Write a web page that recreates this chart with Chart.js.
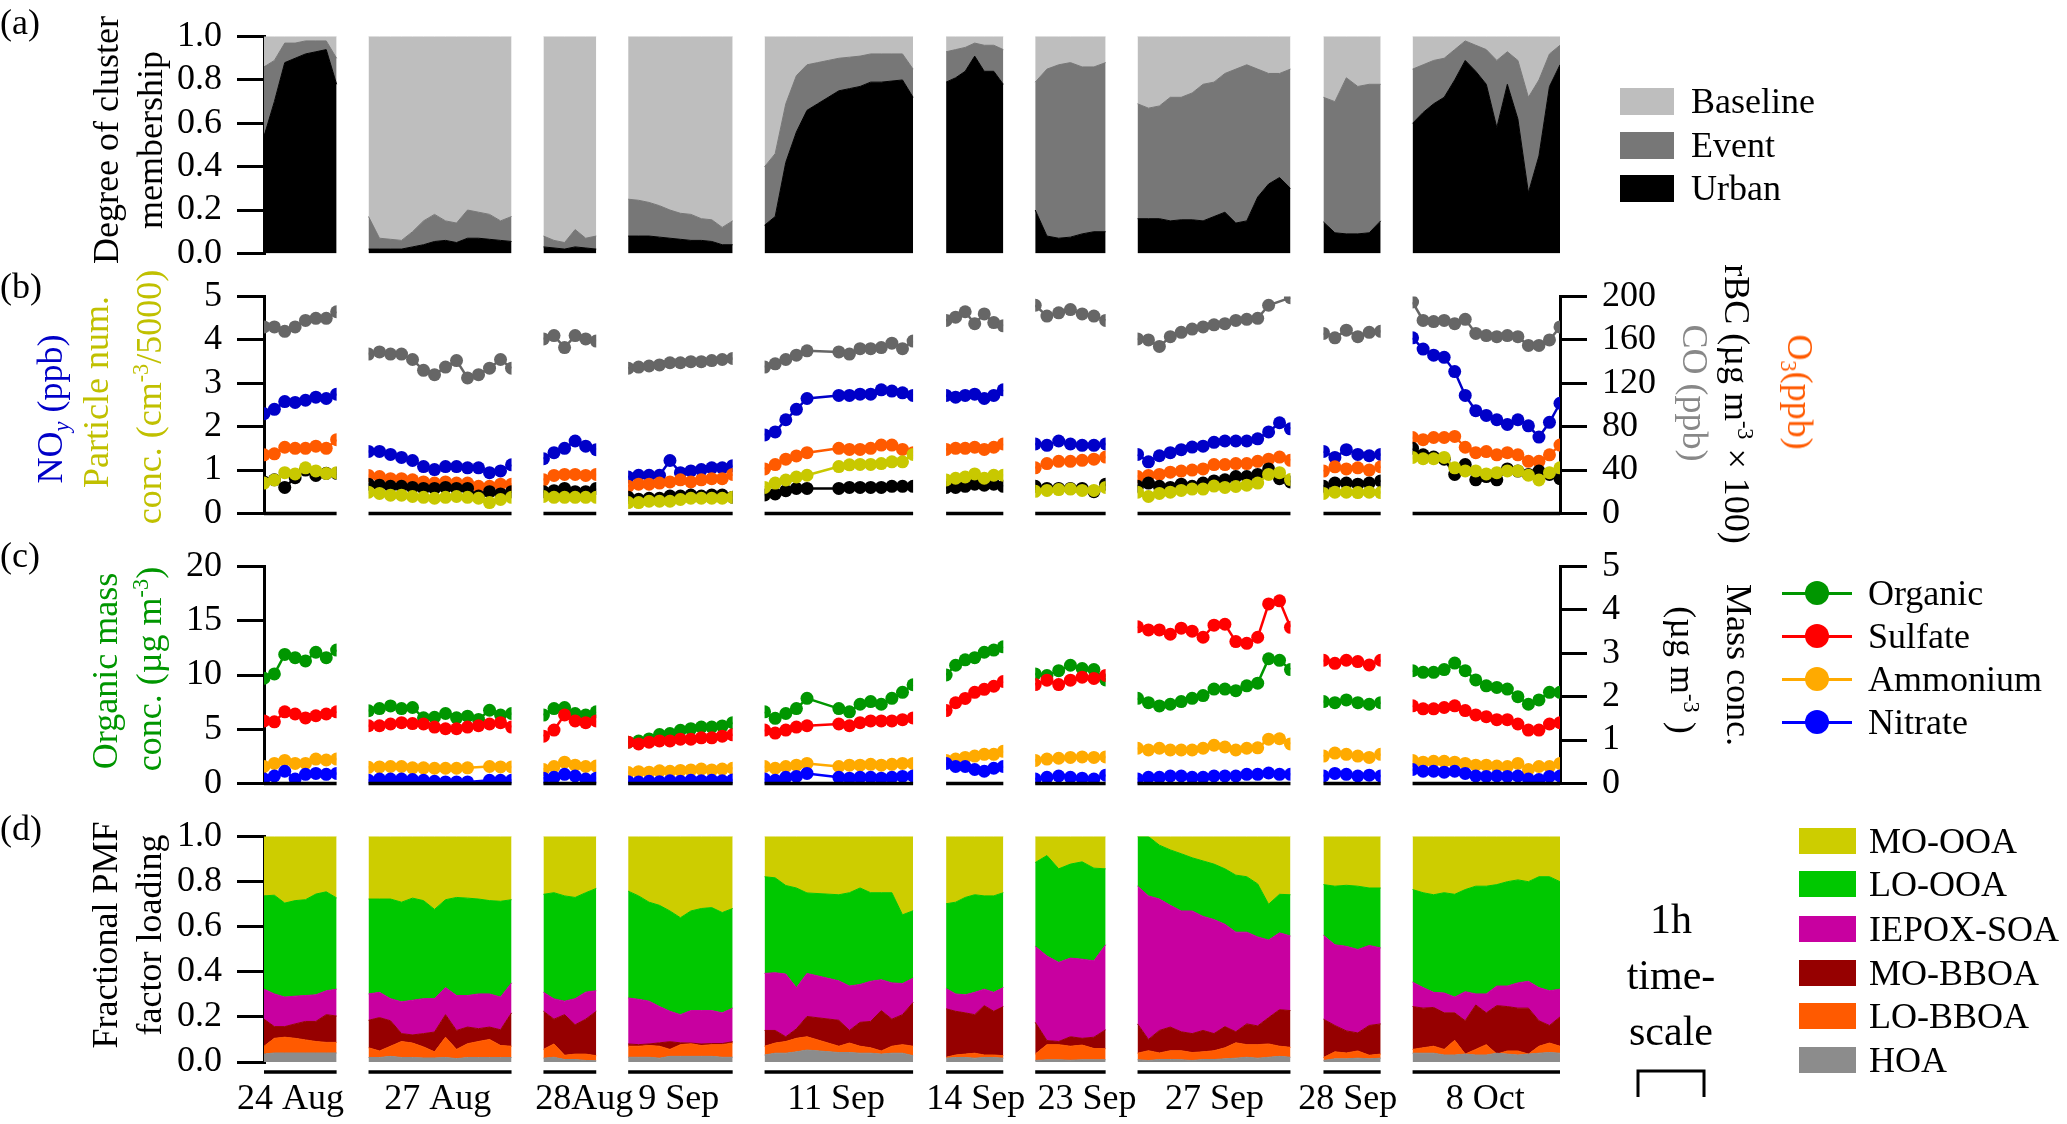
<!DOCTYPE html>
<html><head><meta charset="utf-8">
<script src="https://cdn.jsdelivr.net/npm/chart.js"></script>
<style>
html,body{margin:0;padding:0;background:#fff;}
#wrap{position:relative;width:2067px;height:1124px;overflow:hidden;font-family:'Liberation Serif',serif;}
canvas{position:absolute;left:0;}
.t{position:absolute;white-space:nowrap;font-size:36px;line-height:1;color:#000;}
.t sup{font-size:0.62em;position:relative;top:-0.6em;vertical-align:baseline;line-height:0;}
.t sub{font-size:0.62em;position:relative;top:0.3em;vertical-align:baseline;line-height:0;}
.sw{position:absolute;}
</style></head><body><div id="wrap">
<canvas id="ca" width="2067" height="290" style="top:0px"></canvas>
<canvas id="cb" width="2067" height="290" style="top:260px"></canvas>
<canvas id="cc" width="2067" height="290" style="top:530px"></canvas>
<canvas id="cd" width="2067" height="324" style="top:800px"></canvas>
</div>
<script>
// ---------- time axis (minutes on a continuous, gap-compressed axis) ----------
const segStart = [0, 95, 254, 331, 455, 620, 701, 794, 963, 1044];
const segEnd   = [66, 225, 302, 426, 590, 672, 765, 933, 1015, 1178];
const xMax = 1178;
const dateLabels = ['24 Aug','27 Aug','28Aug','9 Sep','11 Sep','14 Sep','23 Sep','27 Sep','28 Sep','8 Oct'];
const labelTimes = [24, 158, 291, 377, 520, 647, 748, 864, 985, 1110];

// ---------- panel (a): degree of cluster membership (cumulative) ----------
const urban = [
 [0.54,0.70,0.88,0.90,0.92,0.93,0.94,0.78],
 [0.02,0.02,0.02,0.02,0.03,0.04,0.055,0.06,0.05,0.07,0.07,0.065,0.06,0.055],
 [0.03,0.025,0.02,0.03,0.025,0.02],
 [0.08,0.08,0.08,0.075,0.07,0.065,0.06,0.06,0.055,0.04,0.04],
 [0.13,0.17,0.42,0.56,0.66,0.69,0.72,0.75,0.76,0.77,0.79,0.79,0.795,0.80,0.72],
 [0.79,0.81,0.84,0.91,0.84,0.84,0.78],
 [0.20,0.08,0.07,0.075,0.09,0.10,0.10],
 [0.16,0.16,0.16,0.15,0.155,0.155,0.15,0.17,0.19,0.14,0.15,0.26,0.32,0.35,0.30],
 [0.145,0.095,0.09,0.09,0.095,0.15],
 [0.60,0.65,0.69,0.72,0.80,0.89,0.84,0.78,0.58,0.78,0.62,0.28,0.45,0.77,0.87]
];
const urbanPlusEvent = [
 [0.86,0.89,0.97,0.97,0.98,0.98,0.98,0.90],
 [0.17,0.07,0.065,0.06,0.10,0.15,0.18,0.15,0.14,0.20,0.19,0.18,0.15,0.17],
 [0.08,0.06,0.05,0.11,0.07,0.08],
 [0.25,0.245,0.235,0.22,0.20,0.185,0.18,0.16,0.155,0.12,0.15],
 [0.40,0.46,0.69,0.82,0.87,0.88,0.89,0.90,0.905,0.91,0.92,0.92,0.92,0.92,0.85],
 [0.93,0.94,0.95,0.97,0.96,0.96,0.94],
 [0.79,0.85,0.87,0.88,0.86,0.86,0.88],
 [0.69,0.67,0.68,0.72,0.72,0.74,0.78,0.79,0.83,0.85,0.87,0.85,0.83,0.83,0.85],
 [0.72,0.70,0.81,0.77,0.78,0.78],
 [0.85,0.87,0.89,0.90,0.94,0.98,0.96,0.94,0.89,0.93,0.89,0.72,0.80,0.92,0.96]
];
const totalFraction = 1;

// ---------- panel (b) ----------
const noy = [
 [2.30,2.40,2.58,2.56,2.61,2.68,2.65,2.75],
 [1.43,1.43,1.36,1.29,1.22,1.08,1.01,1.08,1.08,1.05,1.05,0.94,0.98,1.12],
 [1.26,1.40,1.50,1.67,1.55,1.47],
 [0.84,0.88,0.88,0.88,1.22,0.94,0.98,1.01,1.05,1.05,1.10],
 [1.81,1.88,2.16,2.40,2.65,null,null,2.72,2.72,2.75,2.75,2.85,2.82,2.78,2.72],
 [2.72,2.68,2.72,2.75,2.65,2.72,2.85],
 [1.60,1.57,1.67,1.60,1.57,1.57,1.60],
 [1.36,1.19,1.33,1.40,1.47,1.53,1.55,1.64,1.67,1.67,1.67,1.72,1.88,2.09,1.95],
 [1.43,1.29,1.47,1.36,1.33,1.36],
 [4.05,3.79,3.65,3.60,3.27,2.72,2.37,2.26,2.16,2.05,2.16,2.02,1.76,2.10,2.54]
];
const particleNum = [
 [0.70,0.77,0.94,0.91,1.05,0.98,0.92,0.94],
 [0.49,0.46,0.42,0.42,0.39,0.37,0.35,0.37,0.39,0.37,0.35,0.25,0.32,0.37],
 [0.39,0.37,0.37,0.37,0.37,0.37],
 [0.25,0.25,0.28,0.28,0.28,0.32,0.35,0.35,0.35,0.35,0.37],
 [0.60,0.70,0.77,0.84,0.88,null,null,1.08,1.12,1.13,1.13,1.15,1.19,1.19,1.36],
 [0.77,0.81,0.84,0.91,0.81,0.88,0.88],
 [0.51,0.53,0.55,0.56,0.53,0.53,0.60],
 [0.49,0.39,0.46,0.49,0.53,0.56,0.56,0.63,0.60,0.62,0.65,0.70,0.90,0.94,0.78],
 [0.46,0.49,0.49,0.48,0.49,0.48],
 [1.29,1.26,1.26,1.29,1.05,0.98,0.98,0.91,0.94,0.98,0.98,0.88,0.77,0.94,1.05]
];
const co = [
 [172,172,168,172,178,180,180,186],
 [147,149,147,147,142,132,128,135,141,125,128,134,142,134],
 [161,164,153,164,161,159],
 [134,135,136,137,139,139,140,140,141,142,143],
 [135,138,142,146,150,null,null,149,147,152,152,153,157,152,159],
 [178,181,186,175,184,176,173],
 [192,182,185,188,184,182,178],
 [161,160,154,163,167,170,172,174,175,178,179,180,192,null,199],
 [166,162,169,163,167,168],
 [195,178,177,178,175,179,166,164,163,164,163,155,155,160,172]
];
const o3 = [
 [54,55,61,60,60,62,60,68],
 [35,34,32,32,31,29,28,29,28,28,25,25,27,27],
 [31,35,36,36,35,36],
 [25,27,27,28,29,31,29,31,32,32,36],
 [41,45,50,53,56,null,null,60,59,59,60,63,63,59,56],
 [59,60,60,61,59,61,64],
 [42,46,48,48,49,50,52],
 [34,35,36,38,39,40,41,45,45,46,46,48,50,52,49],
 [39,43,41,42,40,43],
 [70,68,70,70,71,61,56,57,54,56,54,48,48,54,63]
];
const rbc = [
 [29,31,24,33,40,35,37,37],
 [27,26,25,25,24,23,23,24,23,23,16,20,18,20],
 [20,21,23,20,20,23],
 [15,13,14,14,16,16,17,16,17,17,15],
 [17,18,21,23,23,null,null,23,24,24,24,24,25,25,25],
 [24,24,25,27,26,27,25],
 [25,23,23,23,23,20,27],
 [25,28,25,24,27,25,28,30,31,34,34,36,41,32,29],
 [25,28,28,27,28,30],
 [60,54,52,50,36,45,31,34,31,41,39,36,39,36,32]
];

// ---------- panel (c) ----------
const organic = [
 [9.7,10.1,11.9,11.6,11.3,12.1,11.6,12.3],
 [6.7,6.9,7.15,6.9,7.0,6.05,6.1,6.45,6.05,6.2,5.9,6.75,6.3,6.45],
 [6.3,6.9,7.0,6.45,6.3,6.6],
 [3.8,3.9,4.1,4.5,4.6,4.9,5.05,5.2,5.2,5.3,5.6],
 [6.6,6.0,6.45,6.9,7.85,null,null,6.9,6.6,7.3,7.55,7.3,7.85,8.4,9.1],
 [10.0,10.9,11.4,11.6,12.1,12.3,12.6],
 [10.1,9.95,10.4,10.9,10.6,10.5,9.55],
 [7.85,7.45,7.15,7.3,7.55,7.85,8.1,8.7,8.7,8.55,9.0,9.25,11.5,11.35,10.5],
 [7.55,7.45,7.7,7.45,7.3,7.45],
 [10.4,10.25,10.25,10.5,11.1,10.4,9.55,9.0,8.85,8.7,8.0,7.3,7.7,8.4,8.4]
];
const sulfate = [
 [1.44,1.42,1.65,1.60,1.51,1.56,1.60,1.65],
 [1.33,1.33,1.37,1.40,1.38,1.37,1.30,1.26,1.26,1.30,1.33,1.37,1.40,1.30],
 [1.09,1.23,1.58,1.44,1.40,1.44],
 [0.95,0.91,0.95,0.98,0.98,1.02,1.02,1.05,1.05,1.09,1.12],
 [1.23,1.16,1.23,1.30,1.33,null,null,1.37,1.33,1.40,1.44,1.44,1.44,1.47,1.51],
 [1.68,1.86,1.96,2.10,2.17,2.24,2.35],
 [2.28,2.38,2.28,2.38,2.45,2.42,2.49],
 [3.61,3.54,3.54,3.44,3.58,3.51,3.37,3.65,3.67,3.27,3.23,3.37,4.14,4.21,3.6],
 [2.84,2.77,2.84,2.81,2.73,2.84],
 [1.79,1.72,1.72,1.75,1.79,1.68,1.58,1.54,1.47,1.47,1.37,1.23,1.23,1.37,1.40]
];
const ammonium = [
 [0.39,0.46,0.53,0.46,0.46,0.56,0.54,0.56],
 [0.37,0.38,0.39,0.39,0.36,0.36,0.35,0.35,0.35,0.36,null,0.39,0.38,0.38],
 [0.32,0.39,0.49,0.42,0.39,0.40],
 [0.25,0.27,0.26,0.29,0.28,0.30,0.31,0.33,0.31,0.33,0.35],
 [0.39,0.35,0.39,0.42,0.46,null,null,0.39,0.42,0.42,0.44,0.42,0.44,0.46,0.46],
 [0.53,0.56,0.60,0.63,0.67,0.67,0.74],
 [0.53,0.56,0.58,0.60,0.61,0.60,0.61],
 [0.81,0.77,0.81,0.77,0.77,0.77,0.81,0.88,0.84,0.77,0.81,0.82,1.02,1.03,0.91],
 [0.63,0.70,0.67,0.63,0.60,0.67],
 [0.53,0.49,0.51,0.51,0.49,0.46,0.42,0.42,0.40,0.39,0.46,0.32,0.39,0.39,0.46]
];
const nitrate = [
 [0.10,0.17,0.28,0.10,0.21,0.23,0.21,0.23],
 [0.07,0.10,0.10,0.10,0.09,0.07,0.05,0.035,0.035,0.035,null,0.07,0.07,0.07],
 [0.12,0.14,0.21,0.17,0.10,0.12],
 [0.04,0.03,0.05,0.04,0.06,0.05,0.07,0.06,0.07,0.06,0.08],
 [0.10,0.07,0.14,0.16,0.23,null,null,0.14,0.12,0.14,0.14,0.12,0.14,0.16,0.17],
 [0.46,0.39,0.39,0.32,0.28,0.35,0.39],
 [0.10,0.14,0.17,0.14,0.12,0.10,0.19],
 [0.10,0.14,0.14,0.17,0.17,0.14,0.14,0.17,0.17,0.17,0.21,0.21,0.24,0.21,0.21],
 [0.17,0.23,0.21,0.17,0.19,0.17],
 [0.32,0.28,0.28,0.26,0.28,0.23,0.17,0.16,0.17,0.16,0.17,0.10,0.09,0.16,0.17]
];

// ---------- panel (d): cumulative fractional PMF loadings (upper edge of each factor) ----------
const hoaCum = [
 [0.035,0.04,0.04,0.04,0.04,0.04,0.04,0.04],
 [0.02,0.02,0.025,0.02,0.02,0.018,0.018,0.02,0.015,0.02,0.02,0.02,0.02,0.02],
 [0.017,0.021,0.011,0.011,0.007,0.005],
 [0.021,0.021,0.021,0.017,0.025,0.025,0.025,0.025,0.025,0.021,0.021],
 [0.031,0.039,0.039,0.045,0.053,null,null,0.042,0.042,0.039,0.039,0.035,0.039,0.039,0.028],
 [0.017,0.02,0.02,0.017,0.02,0.02,0.017],
 [0.007,0.01,0.01,0.008,0.01,0.01,0.01],
 [0.01,0.007,0.011,0.011,0.01,0.007,0.011,0.011,0.014,0.017,0.021,0.017,0.021,0.025,0.021],
 [0.007,0.014,0.014,0.017,0.014,0.017],
 [0.039,0.039,0.039,0.031,0.031,0.035,0.031,0.031,0.039,0.035,0.031,0.035,0.039,0.042,0.039]
];
const loBboaCum = [
 [0.07,0.105,0.11,0.105,0.098,0.091,0.087,0.087],
 [0.063,0.049,0.07,0.091,0.084,0.067,0.045,0.11,0.056,0.081,0.091,0.10,0.073,0.07],
 [0.056,0.08,0.03,0.035,0.035,0.028],
 [0.07,0.07,0.073,0.07,0.056,0.077,0.081,0.073,0.077,0.077,0.084],
 [0.07,0.084,0.091,0.105,0.112,null,null,0.07,0.084,0.07,0.063,0.049,0.07,0.077,0.07],
 [0.021,0.031,0.035,0.039,0.031,0.031,0.028],
 [0.035,0.077,0.077,0.07,0.075,0.06,0.059],
 [0.039,0.05,0.04,0.05,0.05,0.042,0.045,0.05,0.063,0.085,0.077,0.077,0.08,0.07,0.065],
 [0.02,0.045,0.04,0.049,0.03,0.035],
 [0.056,0.063,0.07,0.056,0.096,0.035,0.056,0.077,0.035,0.049,0.049,0.035,0.07,0.084,0.07]
];
const moBboaCum = [
 [0.19,0.157,0.157,0.169,0.18,0.18,0.21,0.204],
 [0.185,0.197,0.183,0.126,0.12,0.126,0.133,0.21,0.14,0.155,0.148,0.155,0.143,0.218],
 [0.225,0.19,0.21,0.165,0.19,0.225],
 [0.08,0.077,0.08,0.085,0.09,0.085,0.084,0.08,0.082,0.082,0.09],
 [0.14,0.14,0.112,0.147,0.202,null,null,0.185,0.14,0.176,0.18,0.228,0.19,0.21,0.264],
 [0.236,0.225,0.218,0.21,0.25,0.225,0.246],
 [0.176,0.095,0.091,0.112,0.105,0.11,0.143],
 [0.169,0.10,0.14,0.155,0.134,0.126,0.14,0.126,0.157,0.134,0.169,0.16,0.197,0.232,0.228],
 [0.19,0.162,0.138,0.129,0.162,0.169],
 [0.246,0.239,0.242,0.218,0.218,0.183,0.253,0.218,0.25,0.246,0.239,0.239,0.183,0.162,0.2]
];
const iepoxCum = [
 [0.323,0.302,0.288,0.292,0.295,0.298,0.316,0.323],
 [0.302,0.309,0.281,0.267,0.274,0.281,0.281,0.33,0.295,0.295,0.302,0.302,0.288,0.351],
 [0.309,0.28,0.27,0.281,0.31,0.316],
 [0.284,0.278,0.27,0.246,0.225,0.21,0.228,0.228,0.228,0.218,0.239],
 [0.393,0.396,0.39,0.33,0.393,null,null,0.36,0.337,0.344,0.358,0.365,0.351,0.348,0.372],
 [0.326,0.302,0.298,0.309,0.323,0.309,0.33],
 [0.513,0.47,0.442,0.461,0.456,0.449,0.52],
 [0.78,0.737,0.723,0.695,0.67,0.67,0.646,0.632,0.611,0.576,0.576,0.555,0.541,0.573,0.559],
 [0.562,0.52,0.513,0.499,0.517,0.506],
 [0.354,0.33,0.309,0.306,0.288,0.312,0.302,0.302,0.337,0.337,0.351,0.358,0.33,0.316,0.323]
];
const loOoaCum = [
 [0.737,0.74,0.705,0.716,0.72,0.745,0.755,0.728],
 [0.723,0.723,0.723,0.709,0.727,0.716,0.677,0.72,0.73,0.727,0.723,0.716,0.713,0.72],
 [0.744,0.751,0.737,0.73,0.751,0.77],
 [0.758,0.737,0.709,0.695,0.67,0.64,0.67,0.681,0.685,0.663,0.681],
 [0.822,0.817,0.783,0.772,0.75,null,null,0.742,0.751,0.772,0.751,0.751,0.751,0.653,0.671],
 [0.702,0.709,0.73,0.742,0.737,0.737,0.751],
 [0.885,0.916,0.857,0.878,0.888,0.86,0.857],
 [1.0,1.0,0.962,0.941,0.924,0.906,0.892,0.878,0.857,0.829,0.822,0.79,0.70,0.744,0.742],
 [0.787,0.78,0.784,0.78,0.772,0.772],
 [0.765,0.751,0.742,0.751,0.744,0.765,0.78,0.78,0.787,0.80,0.808,0.80,0.822,0.822,0.80]
];

// ---------------------------------------------------------------------------
const FF = "'Liberation Serif', serif";
Chart.defaults.font.family = FF;
Chart.defaults.font.size = 36;

function tAt(s, i, n) { return segStart[s] + i * (segEnd[s] - segStart[s]) / (n - 1); }
function lineData(series) {
  const out = [];
  series.forEach((seg, s) => {
    if (s > 0) out.push({x: (segEnd[s-1] + segStart[s]) / 2, y: null});
    seg.forEach((v, i) => { if (v !== null) out.push({x: tAt(s, i, seg.length), y: v}); });
  });
  return out;
}
function segData(arr, s, constVal) {
  const seg = arr[s];
  const out = [];
  seg.forEach((v, i) => { if (v !== null) out.push({x: tAt(s, i, seg.length), y: constVal !== undefined ? constVal : v}); });
  return out;
}
function yAxis(pos, min, max, step, width, fmt) {
  return {
    type: 'linear', position: pos, min: min, max: max,
    ticks: {stepSize: step, autoSkip: false, color: '#000', font: {family: FF, size: 36}, padding: 15,
            callback: fmt || (v => String(v))},
    grid: {drawOnChartArea: false, drawTicks: true, tickLength: 27, lineWidth: 3, color: '#000'},
    border: {display: true, color: '#000', width: 3},
    afterFit(s) { s.width = width; }
  };
}
const xHidden = {type: 'linear', min: 0, max: xMax, display: false};
function segLines(offset) {
  return {
    id: 'segLines',
    afterDatasetsDraw(chart) {
      const {ctx, chartArea, scales} = chart;
      const x = scales.x;
      const y = chartArea.bottom + offset;
      ctx.save(); ctx.strokeStyle = '#000'; ctx.lineWidth = 3.5;
      segStart.forEach((s0, i) => {
        ctx.beginPath(); ctx.moveTo(x.getPixelForValue(s0), y); ctx.lineTo(x.getPixelForValue(segEnd[i]), y); ctx.stroke();
      });
      ctx.restore();
    }
  };
}
// each measurement period is its own sub-plot: clip marks to the period's extent
const segClip = {
  id: 'segClip',
  beforeDatasetsDraw(chart) {
    const {ctx, chartArea, scales} = chart;
    const x = scales.x;
    ctx.save(); ctx.beginPath();
    segStart.forEach((s0, i) => {
      const a = x.getPixelForValue(s0), b = x.getPixelForValue(segEnd[i]);
      ctx.rect(a, chartArea.top - 15, b - a, chartArea.bottom - chartArea.top + 30);
    });
    ctx.clip();
  },
  afterDatasetsDraw(chart) { chart.ctx.restore(); }
};
const baseOpts = (padding, scales) => ({
  responsive: false, animation: false, events: [],
  layout: {padding: padding},
  plugins: {legend: {display: false}, tooltip: {enabled: false}},
  scales: scales
});
function stackedDatasets(bands, colors) {
  const ds = [];
  for (let s = 0; s < segStart.length; s++) {
    const base = ds.length;
    bands.forEach((b, k) => {
      const data = b === 'total' ? segData(bands[k-1], s, totalFraction) : segData(b, s);
      ds.push({data: data, backgroundColor: colors[k], borderColor: colors[k], borderWidth: 1,
               pointRadius: 0, fill: k === 0 ? 'origin' : base + k - 1, tension: 0});
    });
  }
  return ds;
}
function lineSet(series, color, axis, order) {
  return {data: lineData(series), borderColor: color, backgroundColor: color, pointBackgroundColor: color,
          pointBorderColor: color, pointBorderWidth: 0, pointRadius: 6.5, borderWidth: 2.5,
          spanGaps: false, yAxisID: axis, order: order, fill: false, tension: 0};
}

// ----- panel (a)
const colA = ['#000000', '#777777', '#bebebe'];
new Chart(document.getElementById('ca'), {
  type: 'line',
  data: {datasets: stackedDatasets([urban, urbanPlusEvent, 'total'], colA)},
  options: baseOpts({left: 0, right: 507, top: 29, bottom: 33},
    {x: xHidden, y: yAxis('left', 0, 1, 0.2, 264, v => v.toFixed(1))})
});

// ----- panel (b)
new Chart(document.getElementById('cb'), {
  type: 'line',
  data: {datasets: [
    lineSet(particleNum, '#c8c800', 'y', 1),
    lineSet(rbc, '#000000', 'y2', 2),
    lineSet(o3, '#ff5a00', 'y2', 3),
    lineSet(noy, '#0000c8', 'y', 4),
    lineSet(co, '#666666', 'y2', 5)
  ]},
  options: baseOpts({left: 0, right: 0, top: 27, bottom: 23},
    {x: xHidden, y: yAxis('left', 0, 5, 1, 264), y2: yAxis('right', 0, 200, 40, 507)}),
  plugins: [segClip, segLines(0)]
});

// ----- panel (c)
new Chart(document.getElementById('cc'), {
  type: 'line',
  data: {datasets: [
    lineSet(nitrate, '#0000ff', 'y2', 1),
    lineSet(ammonium, '#ffaa00', 'y2', 2),
    lineSet(sulfate, '#ff0000', 'y2', 3),
    lineSet(organic, '#009600', 'y', 4)
  ]},
  options: baseOpts({left: 0, right: 0, top: 26, bottom: 27},
    {x: xHidden, y: yAxis('left', 0, 20, 5, 264), y2: yAxis('right', 0, 5, 1, 507)}),
  plugins: [segClip, segLines(0)]
});

// ----- panel (d)
const colD = ['#8c8c8c', '#ff5a00', '#960000', '#c800a0', '#00c800', '#cdcd00'];
const scaleBar = {
  id: 'scaleBar',
  afterDraw(chart) {
    const x = chart.scales.x;
    const w = x.getPixelForValue(60) - x.getPixelForValue(0);   // 1 h
    const ctx = chart.ctx, left = 1638, top = 271, h = 26;
    ctx.save(); ctx.strokeStyle = '#000'; ctx.lineWidth = 3;
    ctx.beginPath(); ctx.moveTo(left, top + h); ctx.lineTo(left, top); ctx.lineTo(left + w, top); ctx.lineTo(left + w, top + h); ctx.stroke();
    ctx.restore();
  }
};
new Chart(document.getElementById('cd'), {
  type: 'line',
  data: {datasets: stackedDatasets([hoaCum, loBboaCum, moBboaCum, iepoxCum, loOoaCum, 'total'], colD)},
  options: baseOpts({left: 0, right: 507, top: 26, bottom: 0}, {
    x: {type: 'linear', min: 0, max: xMax, position: 'bottom',
        afterBuildTicks(ax) { ax.ticks = labelTimes.map(v => ({value: v})); },
        ticks: {autoSkip: false, maxRotation: 0, minRotation: 0, color: '#000', font: {family: FF, size: 36},
                padding: 16, callback: (v, i) => dateLabels[i]},
        grid: {display: false, drawTicks: false, tickLength: 0}, border: {display: false},
        afterFit(s) { s.height = 62; }},
    y: yAxis('left', 0, 1, 0.2, 264, v => v.toFixed(1))
  }),
  plugins: [segLines(10), scaleBar]
});

// ---------- text (titles, panel letters, legends) ----------
const wrap = document.getElementById('wrap');
function addText(html, x, y, o) {
  o = o || {};
  const d = document.createElement('div');
  d.className = 't'; d.innerHTML = html;
  d.style.color = o.color || '#000';
  d.style.fontSize = (o.size || 36) + 'px';
  d.style.left = x + 'px'; d.style.top = y + 'px';
  const tx = o.align === 'left' ? '0' : '-50%';
  d.style.transform = 'translate(' + tx + ',-50%)' + (o.rot ? ' rotate(' + o.rot + 'deg)' : '');
  wrap.appendChild(d);
}
function addBox(x, y, w, h, color, radius) {
  const d = document.createElement('div');
  d.className = 'sw';
  d.style.left = x + 'px'; d.style.top = y + 'px'; d.style.width = w + 'px'; d.style.height = h + 'px';
  d.style.background = color;
  if (radius) d.style.borderRadius = '50%';
  wrap.appendChild(d);
}
addText('(a)', 0, 22, {align: 'left'});
addText('(b)', 0, 286, {align: 'left'});
addText('(c)', 0, 555, {align: 'left'});
addText('(d)', 0, 828, {align: 'left'});
addText('Degree of cluster', 106, 140, {rot: -90});
addText('membership', 150, 140, {rot: -90});
addText('NO<sub><i>y</i></sub> (ppb)', 50, 409, {rot: -90, color: '#0000c8'});
addText('Particle num.', 96, 392, {rot: -90, color: '#c0c000'});
addText('conc. (cm<sup>-3</sup>/5000)', 149, 397, {rot: -90, color: '#c0c000'});
addText('Organic mass', 105, 671, {rot: -90, color: '#009600'});
addText('conc. (µg m<sup>-3</sup>)', 149, 669, {rot: -90, color: '#009600'});
addText('Fractional PMF', 105, 935, {rot: -90});
addText('factor loading', 149, 935, {rot: -90});
addText('CO (ppb)', 1695, 393, {rot: 90, color: '#888888'});
addText('rBC (µg m<sup>-3</sup> × 100)', 1737, 404, {rot: 90});
addText('O<sub>3</sub>(ppb)', 1800, 392, {rot: 90, color: '#ff5a00'});
addText('Mass conc.', 1739, 665, {rot: 90});
addText('(µg m<sup>-3</sup> )', 1683, 670, {rot: 90});
const legA = [['Baseline', '#bebebe', 101], ['Event', '#777777', 145], ['Urban', '#000000', 188]];
legA.forEach(l => { addBox(1620, l[2] - 13, 54, 27, l[1]); addText(l[0], 1691, l[2], {align: 'left'}); });
const legC = [['Organic', '#009600', 593], ['Sulfate', '#ff0000', 636], ['Ammonium', '#ffaa00', 679], ['Nitrate', '#0000ff', 722]];
legC.forEach(l => { addBox(1782, l[2] - 1.5, 70, 3, l[1]); addBox(1805, l[2] - 12, 24, 24, l[1], true); addText(l[0], 1868, l[2], {align: 'left'}); });
const legD = [['MO-OOA', colD[5], 841], ['LO-OOA', colD[4], 884], ['IEPOX-SOA', colD[3], 929],
              ['MO-BBOA', colD[2], 973], ['LO-BBOA', colD[1], 1016], ['HOA', colD[0], 1060]];
legD.forEach(l => { addBox(1799, l[2] - 13, 57, 26, l[1]); addText(l[0], 1869, l[2], {align: 'left'}); });
addText('1h', 1671, 919, {size: 42});
addText('time-', 1671, 975, {size: 42});
addText('scale', 1671, 1031, {size: 42});
</script>
</body></html>
